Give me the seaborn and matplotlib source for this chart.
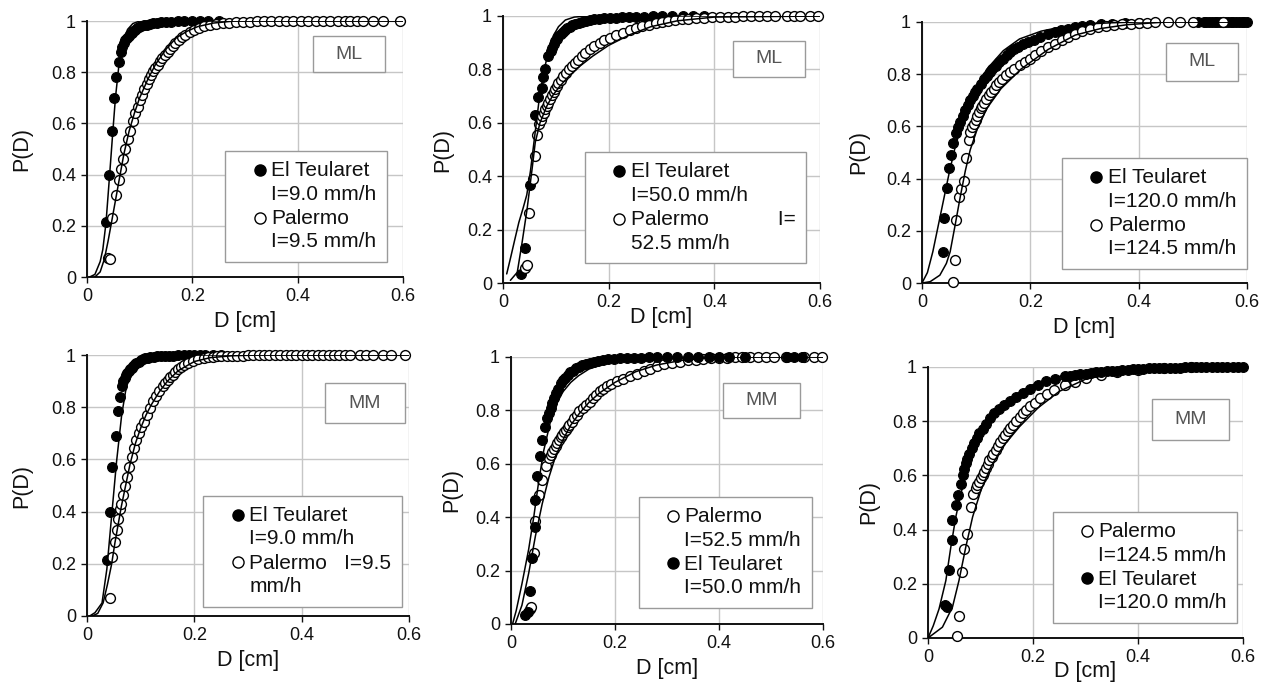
import numpy as np
import pandas as pd
import matplotlib
matplotlib.use("Agg")
import matplotlib.pyplot as plt
import seaborn as sns
from matplotlib.lines import Line2D
from matplotlib.patches import Rectangle
from matplotlib.legend_handler import HandlerLine2D

# ---------------- data: (D [cm], P(D)) ----------------
x_tick_labels = ["0", "0.2", "0.4", "0.6"]
y_tick_labels = ["0", "0.2", "0.4", "0.6", "0.8", "1"]
x_ticks = [0, 0.2, 0.4, 0.6]
y_ticks = [0, 0.2, 0.4, 0.6, 0.8, 1.0]

# Panel 1 (ML, I~9 mm/h)
p1_teul = [(0.036,0.213),(0.0415,0.40),(0.047,0.57),(0.052,0.70),(0.055,0.78),(0.060,0.84),(0.064,0.88),(0.067,0.90),
           (0.070,0.913),(0.073,0.924),(0.076,0.934),(0.079,0.942),(0.082,0.949),(0.085,0.955),(0.088,0.961),(0.091,0.966),
           (0.095,0.971),(0.099,0.975),(0.103,0.979),(0.108,0.983),(0.113,0.986),(0.119,0.989),(0.125,0.991),(0.132,0.993),
           (0.14,0.995),(0.15,0.997),(0.16,0.998),(0.172,0.999),(0.185,1.0),(0.2,1.0),(0.215,1.0),(0.23,1.0),(0.25,1.0)]
p1_pal = [(0.040,0.075),(0.0445,0.071),(0.048,0.23),(0.055,0.32),(0.060,0.377),(0.064,0.42),(0.068,0.46),(0.073,0.50),
          (0.077,0.54),(0.082,0.57),(0.087,0.61),(0.092,0.64),(0.096,0.665),(0.1,0.69),(0.104,0.71),(0.109,0.735),
          (0.113,0.755),(0.117,0.772),(0.121,0.79),(0.125,0.803),(0.129,0.816),(0.134,0.83),(0.138,0.842),(0.143,0.855),
          (0.148,0.867),(0.153,0.88),(0.158,0.891),(0.163,0.902),(0.168,0.913),(0.174,0.925),(0.18,0.936),(0.187,0.946),
          (0.195,0.956),(0.203,0.965),(0.212,0.973),(0.222,0.98),(0.233,0.985),(0.245,0.989),(0.258,0.992),(0.27,0.994),
          (0.283,0.996),(0.296,0.997),(0.31,0.998),(0.323,0.999),(0.336,1),(0.35,1),(0.364,1),(0.378,1),(0.392,1),
          (0.406,1),(0.42,1),(0.434,1),(0.448,1),(0.462,1),(0.476,1),(0.49,1),(0.50,1),(0.512,1),(0.524,1),(0.543,1),
          (0.562,1),(0.594,1)]
p1_teul_fit = [(0.005,0),(0.015,0.01),(0.025,0.06),(0.03,0.107),(0.036,0.21),(0.043,0.40),(0.049,0.567),(0.054,0.70),
               (0.06,0.816),(0.068,0.908),(0.077,0.967),(0.087,0.99),(0.10,1.0),(0.12,1.0),(0.6,1.0)]
p1_pal_fit = [(0.015,0),(0.025,0.02),(0.033,0.07),(0.04,0.14),(0.048,0.23),(0.055,0.31),(0.062,0.39),(0.07,0.48),
              (0.08,0.57),(0.09,0.64),(0.10,0.70),(0.115,0.77),(0.13,0.83),(0.15,0.89),(0.17,0.935),(0.19,0.96),
              (0.21,0.978),(0.24,0.992),(0.28,1.0),(0.6,1.0)]

# Panel 2 (ML, I~50 mm/h)
p2_teul = [(0.035,0.035),(0.0425,0.13),(0.051,0.367),(0.061,0.628),(0.066,0.695),(0.074,0.73),(0.076,0.77),(0.08,0.80),
           (0.086,0.85),(0.09,0.87),(0.0925,0.88),(0.096,0.894),(0.099,0.906),(0.102,0.915),(0.105,0.924),(0.109,0.933),
           (0.113,0.941),(0.117,0.948),(0.121,0.954),(0.126,0.96),(0.131,0.965),(0.137,0.97),(0.143,0.974),(0.15,0.978),
           (0.157,0.981),(0.165,0.984),(0.173,0.987),(0.182,0.989),(0.192,0.991),(0.202,0.993),(0.213,0.994),(0.225,0.995),
           (0.238,0.996),(0.252,0.997),(0.267,0.998),(0.283,0.999),(0.3,1),(0.32,1),(0.34,1),(0.36,1),(0.38,1)]
p2_pal = [(0.042,0.058),(0.0456,0.067),(0.049,0.264),(0.057,0.39),(0.061,0.476),(0.064,0.554),(0.0675,0.595),(0.071,0.612),
          (0.074,0.626),(0.077,0.638),(0.08,0.65),(0.083,0.663),(0.086,0.676),(0.089,0.69),(0.0925,0.703),(0.096,0.715),
          (0.099,0.726),(0.102,0.737),(0.105,0.748),(0.109,0.762),(0.114,0.776),(0.119,0.788),(0.124,0.80),(0.13,0.813),
          (0.136,0.825),(0.142,0.837),(0.149,0.85),(0.156,0.862),(0.164,0.875),(0.173,0.888),(0.183,0.90),(0.192,0.91),
          (0.202,0.919),(0.214,0.929),(0.227,0.938),(0.24,0.947),(0.252,0.956),(0.264,0.962),(0.277,0.968),(0.29,0.973),
          (0.30,0.977),(0.313,0.981),(0.325,0.984),(0.338,0.987),(0.35,0.989),(0.365,0.991),(0.38,0.993),(0.395,0.995),
          (0.41,0.996),(0.425,0.997),(0.44,0.998),(0.455,0.999),(0.47,0.999),(0.485,1.0),(0.50,1.0),(0.515,1.0),
          (0.537,1.0),(0.55,1.0),(0.562,1.0),(0.581,1.0),(0.597,1.0)]
p2_teul_fit = [(0.007,0.034),(0.015,0.10),(0.022,0.16),(0.03,0.227),(0.038,0.28),(0.045,0.33),(0.052,0.42),(0.06,0.55),
               (0.068,0.68),(0.076,0.78),(0.085,0.86),(0.095,0.925),(0.105,0.96),(0.118,0.985),(0.135,0.996),(0.16,1.0),
               (0.6,1.0)]
p2_pal_fit = [(0.014,0.01),(0.027,0.04),(0.036,0.15),(0.0456,0.277),(0.055,0.426),(0.061,0.526),(0.07,0.60),(0.083,0.663),
              (0.095,0.705),(0.108,0.738),(0.125,0.775),(0.146,0.813),(0.17,0.85),(0.2,0.89),(0.24,0.93),(0.28,0.96),
              (0.33,0.982),(0.4,0.996),(0.6,1.0)]

# Panel 3 (ML, I~120 mm/h)
p3_teul = [(0.038,0.118),(0.0406,0.25),(0.0456,0.363),(0.049,0.44),(0.053,0.49),(0.058,0.535),(0.063,0.573),(0.067,0.597),
           (0.0706,0.618),(0.075,0.64),(0.08,0.662),(0.085,0.682),(0.089,0.70),(0.094,0.718),(0.098,0.732),(0.102,0.745),
           (0.108,0.763),(0.114,0.78),(0.12,0.795),(0.126,0.809),(0.13,0.82),(0.136,0.832),(0.142,0.845),(0.149,0.86),
           (0.156,0.872),(0.163,0.885),(0.17,0.897),(0.178,0.906),(0.187,0.915),(0.196,0.923),(0.206,0.932),(0.217,0.941),
           (0.233,0.955),(0.245,0.962),(0.257,0.969),(0.27,0.975),(0.283,0.979),(0.296,0.983),(0.31,0.987),(0.33,0.991),
           (0.35,0.994),(0.375,0.996),(0.40,0.998),(0.51,1),(0.52,1),(0.525,1),(0.53,1),(0.535,1),(0.54,1),(0.545,1),
           (0.55,1),(0.555,1),(0.56,1),(0.565,1),(0.57,1),(0.575,1),(0.58,1),(0.585,1),(0.59,1),(0.595,1),(0.60,1)]
p3_pal = [(0.057,0.005),(0.061,0.09),(0.063,0.24),(0.0675,0.33),(0.072,0.36),(0.077,0.39),(0.082,0.48),(0.086,0.548),
          (0.089,0.58),(0.0925,0.596),(0.0956,0.61),(0.099,0.626),(0.102,0.64),(0.105,0.655),(0.108,0.67),(0.111,0.68),
          (0.114,0.69),(0.119,0.705),(0.124,0.72),(0.128,0.732),(0.133,0.745),(0.137,0.757),(0.142,0.77),(0.148,0.783),
          (0.155,0.796),(0.162,0.808),(0.17,0.82),(0.18,0.834),(0.19,0.847),(0.199,0.86),(0.208,0.873),(0.22,0.889),
          (0.233,0.904),(0.245,0.917),(0.258,0.93),(0.27,0.943),(0.283,0.955),(0.296,0.964),(0.31,0.972),(0.325,0.979),
          (0.34,0.985),(0.355,0.989),(0.37,0.992),(0.385,0.994),(0.40,0.996),(0.415,0.998),(0.43,0.999),(0.454,1),
          (0.476,1),(0.50,1),(0.556,1)]
p3_teul_fit = [(0.0,0),(0.01,0.04),(0.02,0.12),(0.03,0.22),(0.04,0.32),(0.05,0.42),(0.06,0.51),(0.07,0.585),(0.08,0.65),
               (0.1,0.75),(0.12,0.82),(0.15,0.89),(0.18,0.935),(0.22,0.965),(0.26,0.982),(0.3,0.992),(0.35,0.997),
               (0.4,1.0),(0.6,1.0)]
p3_pal_fit = [(0.0,0),(0.015,0.005),(0.033,0.03),(0.045,0.075),(0.052,0.12),(0.061,0.22),(0.0706,0.33),(0.08,0.43),
              (0.089,0.51),(0.102,0.59),(0.12,0.67),(0.146,0.745),(0.183,0.82),(0.233,0.895),(0.283,0.95),(0.33,0.975),
              (0.38,0.99),(0.45,1.0),(0.6,1.0)]

# Panel 4 (MM, I~9 mm/h)
p4_teul = [(0.037,0.216),(0.043,0.398),(0.047,0.572),(0.0535,0.69),(0.057,0.784),(0.0615,0.838),(0.0646,0.88),(0.068,0.90),
           (0.071,0.913),(0.073,0.922),(0.075,0.93),(0.078,0.939),(0.08,0.945),(0.083,0.952),(0.086,0.958),(0.089,0.964),
           (0.092,0.97),(0.096,0.975),(0.1,0.98),(0.104,0.984),(0.108,0.987),(0.113,0.99),(0.118,0.992),(0.124,0.994),
           (0.13,0.995),(0.137,0.996),(0.145,0.997),(0.152,0.998),(0.16,0.998),(0.17,0.999),(0.18,0.999),(0.19,1),
           (0.2,1),(0.21,1),(0.22,1),(0.235,1),(0.25,1)]
p4_pal = [(0.043,0.07),(0.046,0.225),(0.052,0.283),(0.055,0.328),(0.058,0.373),(0.0615,0.411),(0.063,0.43),(0.068,0.463),
          (0.071,0.50),(0.074,0.533),(0.078,0.572),(0.083,0.61),(0.088,0.643),(0.092,0.675),(0.0966,0.70),(0.1015,0.726),
          (0.1065,0.745),(0.111,0.771),(0.117,0.797),(0.123,0.823),(0.129,0.842),(0.135,0.861),(0.1415,0.88),(0.146,0.893),
          (0.151,0.906),(0.155,0.916),(0.16,0.925),(0.164,0.935),(0.169,0.945),(0.175,0.953),(0.1815,0.961),(0.189,0.969),
          (0.197,0.977),(0.207,0.984),(0.218,0.99),(0.226,0.992),(0.235,0.994),(0.243,0.995),(0.25,0.996),(0.26,0.997),
          (0.27,0.997),(0.28,0.998),(0.29,0.998),(0.30,0.999),(0.31,0.999),(0.32,1),(0.33,1),(0.34,1),(0.35,1),(0.36,1),
          (0.37,1),(0.38,1),(0.39,1),(0.40,1),(0.41,1),(0.42,1),(0.43,1),(0.44,1),(0.45,1),(0.46,1),(0.47,1),(0.48,1),
          (0.49,1),(0.508,1),(0.52,1),(0.533,1),(0.552,1),(0.567,1),(0.592,1)]
p4_teul_fit = [(0.005,0),(0.015,0.013),(0.028,0.05),(0.037,0.18),(0.046,0.386),(0.055,0.59),(0.0646,0.77),(0.074,0.887),
               (0.083,0.95),(0.098,0.983),(0.12,0.996),(0.15,1),(0.6,1)]
p4_pal_fit = [(0.01,0),(0.02,0.01),(0.03,0.05),(0.038,0.12),(0.046,0.2),(0.052,0.28),(0.058,0.35),(0.064,0.42),(0.07,0.48),
              (0.08,0.58),(0.09,0.66),(0.1,0.72),(0.11,0.77),(0.12,0.81),(0.135,0.86),(0.15,0.9),(0.17,0.94),(0.2,0.975),
              (0.23,0.99),(0.27,0.997),(0.32,1),(0.6,1)]

# Panel 5 (MM, I~50 mm/h)
p5_teul = [(0.027,0.034),(0.032,0.045),(0.037,0.125),(0.04,0.246),(0.0456,0.365),(0.047,0.465),(0.05,0.555),(0.0567,0.63),
           (0.06,0.69),(0.065,0.737),(0.069,0.77),(0.073,0.79),(0.076,0.81),(0.0795,0.8275),(0.083,0.846),(0.086,0.865),
           (0.09,0.88),(0.0958,0.9025),(0.1,0.912),(0.104,0.92),(0.109,0.934),(0.114,0.942),(0.119,0.949),(0.125,0.959),
           (0.131,0.964),(0.137,0.969),(0.144,0.974),(0.151,0.978),(0.159,0.982),(0.168,0.986),(0.177,0.99),(0.187,0.992),
           (0.198,0.994),(0.21,0.995),(0.223,0.996),(0.236,0.997),(0.25,0.998),(0.265,0.999),(0.28,1),(0.30,1),(0.32,1),
           (0.34,1),(0.36,1),(0.38,1),(0.40,1),(0.42,1),(0.45,1),(0.53,1),(0.545,1),(0.56,1)]
p5_pal = [(0.037,0.055),(0.039,0.065),(0.0437,0.265),(0.047,0.386),(0.053,0.484),(0.06,0.54),(0.0665,0.59),(0.073,0.621),
          (0.0765,0.634),(0.0795,0.646),(0.083,0.656),(0.086,0.665),(0.089,0.678),(0.0925,0.69),(0.096,0.70),(0.099,0.709),
          (0.102,0.718),(0.1055,0.7275),(0.109,0.737),(0.112,0.746),(0.117,0.758),(0.122,0.771),(0.127,0.784),
          (0.1316,0.796),(0.138,0.808),(0.1446,0.821),(0.151,0.833),(0.158,0.846),(0.164,0.858),(0.171,0.871),
          (0.177,0.88),(0.184,0.89),(0.193,0.9),(0.203,0.909),(0.215,0.918),(0.229,0.9275),(0.242,0.937),(0.255,0.946),
          (0.268,0.955),(0.281,0.965),(0.295,0.972),(0.31,0.978),(0.325,0.983),(0.34,0.987),(0.355,0.99),(0.37,0.993),
          (0.385,0.995),(0.40,0.997),(0.415,0.998),(0.43,0.999),(0.445,1),(0.46,1),(0.475,1),(0.49,1),(0.505,1),
          (0.528,1),(0.563,1),(0.582,1),(0.598,1)]
p5_teul_fit = [(0.003,0),(0.01,0.05),(0.021,0.15),(0.034,0.28),(0.0437,0.40),(0.053,0.53),(0.063,0.65),(0.076,0.76),
               (0.089,0.83),(0.1,0.87),(0.115,0.905),(0.13,0.93),(0.15,0.955),(0.18,0.975),(0.22,0.99),(0.27,0.997),
               (0.33,1),(0.6,1)]
p5_pal_fit = [(0.008,0),(0.021,0.07),(0.034,0.19),(0.047,0.33),(0.06,0.45),(0.073,0.55),(0.086,0.63),(0.1,0.69),
              (0.115,0.745),(0.132,0.79),(0.15,0.83),(0.17,0.865),(0.2,0.905),(0.24,0.945),(0.28,0.97),(0.33,0.988),
              (0.4,1),(0.6,1)]

# Panel 6 (MM, I~120 mm/h)
p6_teul = [(0.032,0.12),(0.037,0.114),(0.04,0.25),(0.0454,0.36),(0.0466,0.435),(0.053,0.49),(0.058,0.527),(0.0626,0.57),
           (0.066,0.60),(0.069,0.622),(0.072,0.644),(0.075,0.662),(0.0786,0.68),(0.083,0.70),(0.088,0.718),(0.093,0.737),
           (0.0978,0.755),(0.104,0.773),(0.1105,0.79),(0.118,0.81),(0.1265,0.83),(0.135,0.845),(0.1457,0.86),(0.156,0.876),
           (0.168,0.891),(0.18,0.905),(0.1936,0.918),(0.209,0.933),(0.2256,0.947),(0.242,0.956),(0.26,0.965),(0.27,0.968),
           (0.28,0.971),(0.29,0.974),(0.30,0.976),(0.31,0.978),(0.32,0.98),(0.33,0.982),(0.34,0.984),(0.35,0.986),
           (0.36,0.987),(0.37,0.989),(0.38,0.99),(0.39,0.992),(0.40,0.993),(0.41,0.994),(0.42,0.995),(0.43,0.996),
           (0.44,0.996),(0.45,0.997),(0.46,0.997),(0.47,0.998),(0.48,0.998),(0.49,0.999),(0.50,1),(0.51,1),(0.52,1),
           (0.53,1),(0.54,1),(0.55,1),(0.56,1),(0.57,1),(0.58,1),(0.59,1),(0.60,1)]
p6_pal = [(0.056,0.009),(0.059,0.083),(0.0645,0.243),(0.069,0.33),(0.075,0.385),(0.082,0.484),(0.086,0.533),(0.091,0.552),
          (0.094,0.565),(0.098,0.577),(0.101,0.589),(0.104,0.60),(0.107,0.613),(0.1105,0.626),(0.114,0.642),(0.117,0.657),
          (0.121,0.668),(0.1246,0.68),(0.129,0.695),(0.133,0.709),(0.138,0.723),(0.1425,0.737),(0.147,0.75),(0.152,0.762),
          (0.157,0.774),(0.1617,0.786),(0.168,0.802),(0.1744,0.817),(0.18,0.83),(0.187,0.842),(0.195,0.855),
          (0.2032,0.867),(0.213,0.885),(0.226,0.9),(0.24,0.915),(0.26,0.932),(0.28,0.945),(0.30,0.958),(0.33,0.97),
          (0.36,0.98),(0.4,0.988),(0.45,0.995),(0.5,1.0)]
p6_teul_fit = [(0,0),(0.01,0.045),(0.021,0.107),(0.034,0.212),(0.0435,0.336),(0.053,0.447),(0.0626,0.533),(0.075,0.62),
               (0.09,0.70),(0.11,0.78),(0.13,0.835),(0.16,0.89),(0.2,0.935),(0.25,0.965),(0.3,0.982),(0.36,0.992),
               (0.42,0.997),(0.5,1),(0.6,1)]
p6_pal_fit = [(0,0),(0.0275,0.04),(0.0466,0.114),(0.059,0.212),(0.072,0.336),(0.085,0.447),(0.101,0.546),(0.12,0.632),
              (0.1425,0.706),(0.1744,0.78),(0.21,0.85),(0.25,0.91),(0.3,0.955),(0.36,0.982),(0.42,0.995),(0.5,1),(0.6,1)]

model_labels = ["ML", "ML", "ML", "MM", "MM", "MM"]
teul_labels = ["El Teularet\nI=9.0 mm/h", "El Teularet\nI=50.0 mm/h", "El Teularet\nI=120.0 mm/h",
               "El Teularet\nI=9.0 mm/h", "El Teularet\nI=50.0 mm/h", "El Teularet\nI=120.0 mm/h"]
pal_labels = ["Palermo\nI=9.5 mm/h", "Palermo            I=\n52.5 mm/h", "Palermo\nI=124.5 mm/h",
              "Palermo   I=9.5\nmm/h", "Palermo\nI=52.5 mm/h", "Palermo\nI=124.5 mm/h"]

# ---------------- layout (pixels in the 1267x691 frame) ----------------
W, H = 1267, 691
axes_px = [(87, 21, 403, 277), (503, 16, 820, 283), (922, 22, 1247, 283),
           (87, 355, 409, 616), (511, 357, 823, 624), (928, 367, 1243, 638)]
legend_anchor = [(0.949, 0.059), (0.956, 0.075), (0.999, 0.054),
                 (0.977, 0.036), (0.964, 0.061), (0.982, 0.056)]
model_box = [(0.715, 0.80, 0.228, 0.141), (0.726, 0.772, 0.227, 0.135), (0.751, 0.774, 0.222, 0.146),
             (0.739, 0.739, 0.248, 0.153), (0.679, 0.772, 0.247, 0.131), (0.711, 0.731, 0.244, 0.151)]
xlabel_pad = [4, -3, 4, 4, 4, -4]
ylabel_pad = [13, 10, 12, 13, 9, 9]
palermo_first = [False, False, False, False, True, True]

sns.set_style("white")
plt.rcParams["font.family"] = ["Liberation Sans", "DejaVu Sans"]

teul_series = [p1_teul, p2_teul, p3_teul, p4_teul, p5_teul, p6_teul]
pal_series = [p1_pal, p2_pal, p3_pal, p4_pal, p5_pal, p6_pal]
teul_fits = [p1_teul_fit, p2_teul_fit, p3_teul_fit, p4_teul_fit, p5_teul_fit, p6_teul_fit]
pal_fits = [p1_pal_fit, p2_pal_fit, p3_pal_fit, p4_pal_fit, p5_pal_fit, p6_pal_fit]


class FirstLineHandler(HandlerLine2D):
    """Place the legend marker next to the first line of a two-line label."""
    def __init__(self, dy=0.55, xfrac=0.72, **kw):
        super().__init__(**kw)
        self.dy = dy
        self.xfrac = xfrac

    def create_artists(self, legend, orig_handle, xdescent, ydescent, width, height, fontsize, trans):
        arts = super().create_artists(legend, orig_handle, xdescent, ydescent, width, height, fontsize, trans)
        for a in arts:
            xd = np.asarray(a.get_xdata(), dtype=float)
            yd = np.asarray(a.get_ydata(), dtype=float)
            a.set_xdata(xd * 0 + width * self.xfrac - xdescent)
            a.set_ydata(yd + self.dy * fontsize)
        return arts


fig = plt.figure(figsize=(W / 100, H / 100), dpi=100)
fig.patch.set_facecolor("white")

MS = 50
for i in range(6):
    l, t, r, b = axes_px[i]
    ax = fig.add_axes([l / W, (H - b) / H, (r - l) / W, (b - t) / H])
    ax.set_facecolor("white")

    df_t = pd.DataFrame(teul_series[i], columns=["D", "P"])
    df_p = pd.DataFrame(pal_series[i], columns=["D", "P"])
    fit_t = pd.DataFrame(teul_fits[i], columns=["D", "P"])
    fit_p = pd.DataFrame(pal_fits[i], columns=["D", "P"])

    def draw_teul(z):
        sns.scatterplot(data=df_t, x="D", y="P", ax=ax, s=MS, marker="o", color="black",
                        edgecolor="black", linewidth=0.8, clip_on=False, zorder=z, legend=False)

    def draw_pal(z):
        sns.scatterplot(data=df_p, x="D", y="P", ax=ax, s=MS, marker="o", color="white",
                        edgecolor="black", linewidth=1.0, clip_on=False, zorder=z, legend=False)

    if palermo_first[i]:
        draw_pal(3)
        draw_teul(4)
    else:
        draw_teul(3)
        draw_pal(4)

    sns.lineplot(data=fit_t, x="D", y="P", ax=ax, sort=False, estimator=None, color="black",
                 linewidth=1.1, zorder=5)
    sns.lineplot(data=fit_p, x="D", y="P", ax=ax, sort=False, estimator=None, color="black",
                 linewidth=1.1, zorder=5)

    ax.set_xlim(0, 0.6)
    ax.set_ylim(0, 1)
    ax.set_xticks(x_ticks)
    ax.set_xticklabels(x_tick_labels)
    ax.set_yticks(y_ticks)
    ax.set_yticklabels(y_tick_labels)
    ax.grid(True, color="#c6c6c6", linewidth=1.0)
    ax.set_axisbelow(True)
    for s in ["top", "right"]:
        ax.spines[s].set_visible(False)
    for s in ["left", "bottom"]:
        ax.spines[s].set_visible(True)
        ax.spines[s].set_color("#111111")
        ax.spines[s].set_linewidth(1.4)
    ax.tick_params(axis="both", which="major", bottom=True, left=True, direction="out",
                   length=4, width=1.0, color="#111111", labelsize=13, pad=4, labelcolor="#111111")
    ax.set_xlabel("D [cm]", fontsize=15.5, labelpad=xlabel_pad[i], color="#111111")
    ax.set_ylabel("P(D)", fontsize=15.5, labelpad=ylabel_pad[i], color="#111111")

    # model tag box (ML / MM)
    bx, by, bw, bh = model_box[i]
    ax.add_patch(Rectangle((bx, by), bw, bh, transform=ax.transAxes, facecolor="white",
                           edgecolor="#9a9a9a", linewidth=1.0, zorder=6, clip_on=False))
    ax.text(bx + bw / 2, by + bh / 2, model_labels[i], transform=ax.transAxes, ha="center",
            va="center", fontsize=14, color="#555555", zorder=7)

    # legend
    h_t = Line2D([], [], marker="o", ls="none", markerfacecolor="black", markeredgecolor="black",
                 markersize=8, markeredgewidth=1.0)
    h_p = Line2D([], [], marker="o", ls="none", markerfacecolor="white", markeredgecolor="black",
                 markersize=8, markeredgewidth=1.0)
    if palermo_first[i]:
        handles, labels = [h_p, h_t], [pal_labels[i], teul_labels[i]]
    else:
        handles, labels = [h_t, h_p], [teul_labels[i], pal_labels[i]]
    leg = ax.legend(handles, labels, loc="lower right", bbox_to_anchor=legend_anchor[i],
                    borderaxespad=0, frameon=True, fancybox=False, framealpha=1,
                    edgecolor="#9a9a9a", fontsize=15, handlelength=1.6, handletextpad=0.1,
                    borderpad=0.5, labelspacing=0.25,
                    handler_map={Line2D: FirstLineHandler(dy=0.62)})
    leg.get_frame().set_linewidth(1.0)
    leg.set_zorder(8)
    for txt in leg.get_texts():
        txt.set_linespacing(1.3)
        txt.set_color("#111111")

fig.savefig("out.png", dpi=100, facecolor="white")
